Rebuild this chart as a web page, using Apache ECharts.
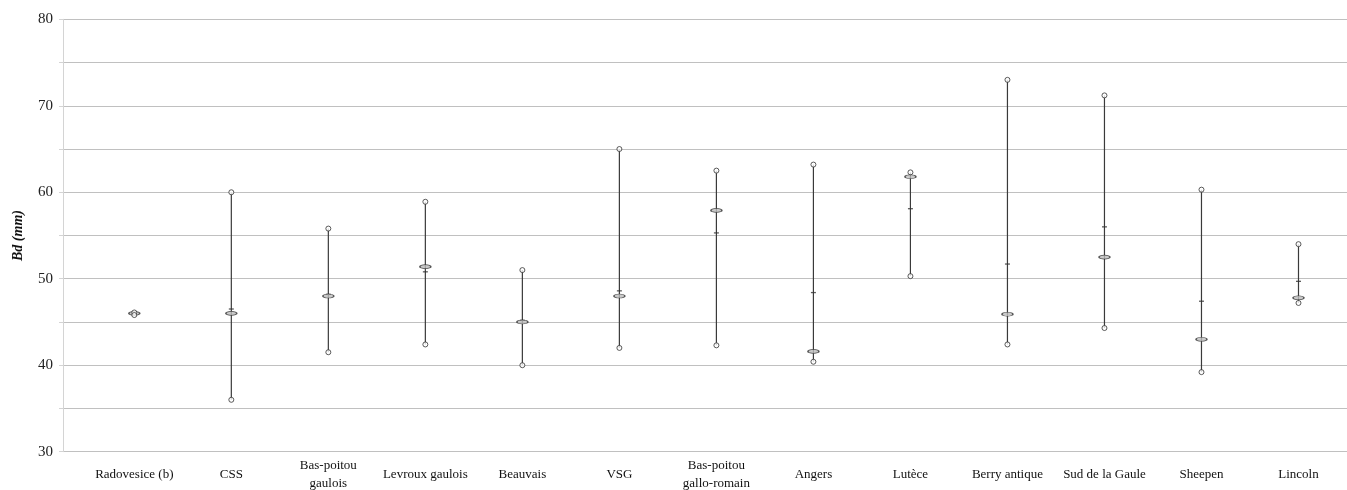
<!DOCTYPE html>
<html><head><meta charset="utf-8">
<script src="https://cdn.jsdelivr.net/npm/echarts@6/dist/echarts.min.js"></script>
<style>html,body{margin:0;padding:0;background:#fff}#c{width:1347px;height:490px}</style>
</head><body><div id="c"></div><script>
const categories = ["Radovesice (b)", "CSS", "Bas-poitou\ngaulois", "Levroux gaulois", "Beauvais", "VSG", "Bas-poitou\ngallo-romain", "Angers", "Lutèce", "Berry antique", "Sud de la Gaule", "Sheepen", "Lincoln"];
const maxValues    = [46.1, 60.0, 55.8, 58.9, 51.0, 65.0, 62.5, 63.2, 62.3, 73.0, 71.2, 60.3, 54.0];
const minValues    = [45.8, 36.0, 41.5, 42.4, 40.0, 42.0, 42.3, 40.4, 50.3, 42.4, 44.3, 39.2, 47.2];
const meanValues   = [46.0, 46.0, 48.0, 51.4, 45.0, 48.0, 57.9, 41.6, 61.8, 45.9, 52.5, 43.0, 47.8];
const medianValues = [46.0, 46.5, 48.2, 50.8, 45.2, 48.6, 55.3, 48.4, 58.1, 51.7, 56.0, 47.4, 49.7];
const yMin = 30, yMax = 80, yStep = 5;
const yLabelValues = [30, 40, 50, 60, 70, 80];

const chart = echarts.init(document.getElementById('c'), null, {renderer: 'canvas'});
const serif = '"Liberation Serif", "DejaVu Serif", serif';
const rangeData = categories.map((c, i) => [i, minValues[i], maxValues[i]]);

chart.setOption({
  animation: false,
  backgroundColor: '#fff',
  grid: [
    {left: 63, right: 0, top: 19.3, bottom: 38.3, containLabel: false, outerBoundsMode: 'none'},
    {left: 85.8, right: 0, top: 19.3, bottom: 38.3, containLabel: false, outerBoundsMode: 'none'}
  ],
  xAxis: [
    {gridIndex: 0, type: 'value', min: 0, max: 1, show: false},
    {gridIndex: 1, type: 'category', data: categories, boundaryGap: true,
     axisLine: {show: false}, axisTick: {show: false}, splitLine: {show: false},
     axisLabel: {interval: 0, margin: 23, verticalAlign: 'middle', lineHeight: 18,
       fontFamily: serif, fontSize: 13, color: '#111'}}
  ],
  yAxis: [
    {gridIndex: 0, type: 'value', min: yMin, max: yMax, interval: yStep,
     name: 'Bd (mm)', nameLocation: 'middle', nameGap: 38, nameRotate: 90,
     nameTextStyle: {fontFamily: serif, fontSize: 14, fontWeight: 'bold', fontStyle: 'italic', color: '#111'},
     axisLine: {show: true, lineStyle: {color: '#d4d4d4', width: 1}},
     axisTick: {show: true, length: 4, lineStyle: {color: '#d4d4d4'}},
     splitLine: {show: true, lineStyle: {color: '#c0c0c0', width: 1}},
     axisLabel: {margin: 10, fontFamily: serif, fontSize: 15, color: '#222',
       formatter: v => (yLabelValues.indexOf(v) >= 0 ? String(v) : '')}},
    {gridIndex: 1, type: 'value', min: yMin, max: yMax, show: false, splitLine: {show: false}}
  ],
  series: [
    {type: 'custom', xAxisIndex: 1, yAxisIndex: 1, silent: true, data: rangeData, z: 2,
     renderItem: function (params, api) {
       const p1 = api.coord([api.value(0), api.value(1)]);
       const p2 = api.coord([api.value(0), api.value(2)]);
       return {type: 'line', shape: {x1: p1[0], y1: p1[1], x2: p2[0], y2: p2[1]},
         style: {stroke: '#3a3a3a', lineWidth: 1.2}};
     }},
    {type: 'scatter', xAxisIndex: 1, yAxisIndex: 1, silent: true, data: medianValues, z: 3,
     symbol: 'rect', symbolSize: [5, 1.3], itemStyle: {color: '#333'}},
    {type: 'scatter', xAxisIndex: 1, yAxisIndex: 1, silent: true, data: meanValues, z: 4,
     symbol: 'circle', symbolSize: [11, 4], itemStyle: {color: '#bdbdbd', borderColor: '#333', borderWidth: 1}},
    {type: 'scatter', xAxisIndex: 1, yAxisIndex: 1, silent: true, data: maxValues, z: 5,
     symbol: 'circle', symbolSize: 5, itemStyle: {color: '#fff', borderColor: '#333', borderWidth: 1}},
    {type: 'scatter', xAxisIndex: 1, yAxisIndex: 1, silent: true, data: minValues, z: 5,
     symbol: 'circle', symbolSize: 5, itemStyle: {color: '#fff', borderColor: '#333', borderWidth: 1}}
  ]
});
</script></body></html>
